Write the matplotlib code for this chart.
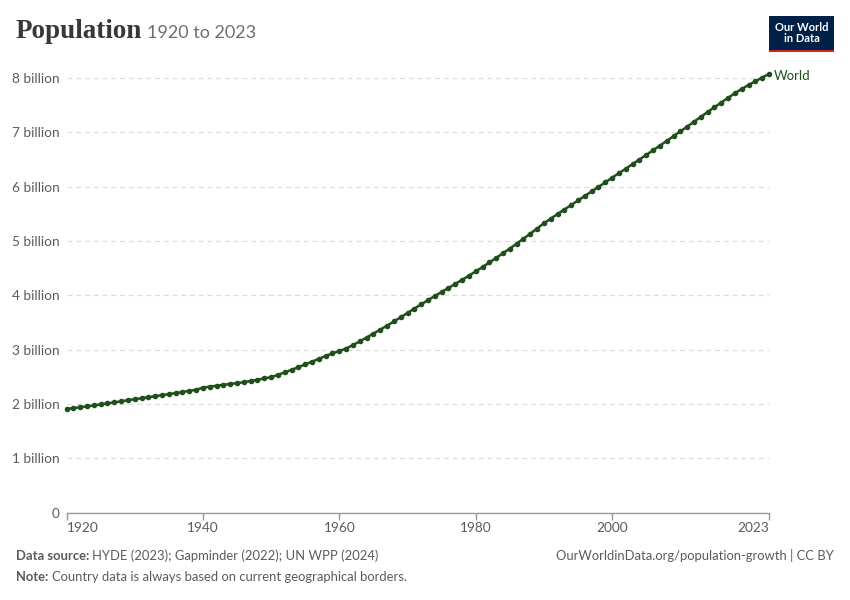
import matplotlib
matplotlib.use("Agg")
import matplotlib.pyplot as plt
from matplotlib.patches import Rectangle

years = list(range(1920, 2024))
population_billion = [
    1.907, 1.922, 1.938, 1.955, 1.973, 1.991, 2.009, 2.028, 2.048, 2.068,
    2.087, 2.105, 2.123, 2.142, 2.161, 2.180, 2.200, 2.220, 2.240, 2.260,
    2.300, 2.318, 2.335, 2.352, 2.368, 2.383, 2.400, 2.421, 2.445, 2.470,
    2.493, 2.536, 2.581, 2.628, 2.677, 2.727, 2.778, 2.830, 2.883, 2.931,
    2.974, 3.020, 3.083, 3.153, 3.223, 3.295, 3.368, 3.442, 3.518, 3.596,
    3.675, 3.755, 3.834, 3.911, 3.987, 4.062, 4.136, 4.210, 4.285, 4.362,
    4.440, 4.521, 4.605, 4.690, 4.775, 4.862, 4.951, 5.043, 5.136, 5.230,
    5.327, 5.413, 5.497, 5.580, 5.663, 5.747, 5.830, 5.913, 5.996, 6.081,
    6.166, 6.250, 6.333, 6.417, 6.501, 6.586, 6.671, 6.757, 6.843, 6.931,
    7.019, 7.107, 7.197, 7.287, 7.376, 7.464, 7.551, 7.637, 7.722, 7.800,
    7.874, 7.943, 8.011, 8.078,
]
series_name = "World"
y_ticks = [0, 1, 2, 3, 4, 5, 6, 7, 8]
y_tick_labels = ["0", "1 billion", "2 billion", "3 billion", "4 billion",
                 "5 billion", "6 billion", "7 billion", "8 billion"]
x_ticks = [1920, 1940, 1960, 1980, 2000, 2023]

LINE = "#1f4f1a"
GRAY = "#5b5b5b"

plt.rcParams["font.family"] = ["Lato", "DejaVu Sans"]

fig = plt.figure(figsize=(8.5, 6), dpi=100)
W, H = 850, 600
ax = fig.add_axes([66.5 / W, (H - 512.5) / H, (769 - 66.5) / W, (512.5 - 70) / H])

ax.plot(years, population_billion, color=LINE, lw=1.8, marker="o",
        markersize=3.0, zorder=3, clip_on=False)

ax.set_xlim(1920, 2023)
ax.set_ylim(0, 8.15)
ax.set_yticks(y_ticks)
ax.set_yticklabels(y_tick_labels)
ax.set_xticks(x_ticks)
ax.set_xticklabels([str(x) for x in x_ticks])
labels = ax.get_xticklabels()
labels[0].set_horizontalalignment("left")
labels[-1].set_horizontalalignment("right")
ax.grid(axis="y", color="#dddddd", linestyle=(0, (4, 3)), lw=0.9)
ax.grid(axis="x", visible=False)
for s in ["top", "right", "left"]:
    ax.spines[s].set_visible(False)
ax.spines["bottom"].set_color("#999999")
ax.spines["bottom"].set_linewidth(1)
ax.tick_params(axis="y", length=0, pad=5, labelsize=9.8, labelcolor=GRAY)
ax.tick_params(axis="x", length=5, width=1, color="#999999", pad=1.5,
               labelsize=9.8, labelcolor=GRAY)
ax.set_axisbelow(True)

ax.annotate(series_name, xy=(years[-1], population_billion[-1]),
            xytext=(3.5, -1.5), textcoords="offset points", va="center",
            ha="left", color=LINE, fontsize=9.5, annotation_clip=False)

# Title
fig.text(16 / W, 1 - 32 / H, "Population", family=["Liberation Serif", "DejaVu Serif"],
         fontsize=19.5, fontweight="bold", color="#383838", va="center", ha="left")
fig.text(147 / W, 1 - 33.5 / H, "1920 to 2023", fontsize=13, color="#6e6e6e",
         va="center", ha="left")

# Logo
logo = Rectangle((769 / W, 1 - 52 / H), 65 / W, 36 / H, transform=fig.transFigure,
                 facecolor="#002147", edgecolor="none")
fig.add_artist(logo)
red = Rectangle((769 / W, 1 - 52 / H), 65 / W, 2.5 / H, transform=fig.transFigure,
                facecolor="#ce261e", edgecolor="none")
fig.add_artist(red)
fig.text(801.5 / W, 1 - 33 / H, "Our World\nin Data", color="white", fontsize=8,
         fontweight="bold", ha="center", va="center", linespacing=1.0)

# Footer
FS = 9.35
fig.text(16 / W, 1 - 556 / H, "Data source:", fontsize=FS, fontweight="bold",
         color=GRAY, va="center", ha="left")
fig.text(92 / W, 1 - 556 / H, "HYDE (2023); Gapminder (2022); UN WPP (2024)",
         fontsize=FS, color=GRAY, va="center", ha="left")
fig.text(16 / W, 1 - 577 / H, "Note:", fontsize=FS, fontweight="bold",
         color=GRAY, va="center", ha="left")
fig.text(52.5 / W, 1 - 577 / H, "Country data is always based on current geographical borders.",
         fontsize=FS, color=GRAY, va="center", ha="left")
fig.text(834 / W, 1 - 556 / H, "OurWorldinData.org/population-growth | CC BY",
         fontsize=FS, color=GRAY, va="center", ha="right")

fig.savefig("out.png", dpi=100, facecolor="white")
